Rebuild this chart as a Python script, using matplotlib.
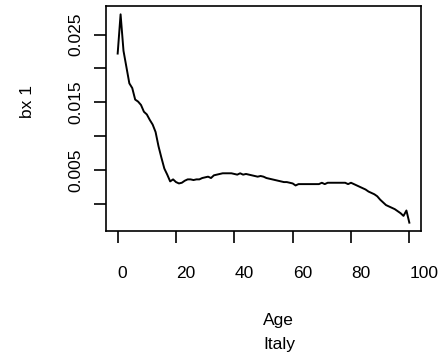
import numpy as np
import matplotlib
matplotlib.use('Agg')
import matplotlib.pyplot as plt

plt.rcParams['font.family'] = ['Liberation Sans', 'DejaVu Sans']

# bx 1 by single year of age
ages = np.arange(0, 101)
bx = [0.0222, 0.0280, 0.0226, 0.0202, 0.0178, 0.0171, 0.0154, 0.0151, 0.0146, 0.0136,
      0.0132, 0.0124, 0.0117, 0.0106, 0.0085, 0.0068, 0.0052, 0.0043, 0.0033, 0.0036,
      0.0032, 0.0030, 0.0031, 0.0034, 0.0036, 0.0036, 0.0035, 0.0036, 0.0036, 0.0038,
      0.0039, 0.0040, 0.0038, 0.0042, 0.0043, 0.0044, 0.0045, 0.0045, 0.0045, 0.0045,
      0.0044, 0.0043, 0.0045, 0.0043, 0.0044, 0.0043, 0.0042, 0.0041, 0.0040, 0.0041,
      0.0040, 0.0038, 0.0037, 0.0036, 0.0035, 0.0034, 0.0033, 0.0032, 0.0032, 0.0031,
      0.0030, 0.0027, 0.0029, 0.0029, 0.0029, 0.0029, 0.0029, 0.0029, 0.0029, 0.0029,
      0.0031, 0.0029, 0.0031, 0.0031, 0.0031, 0.0031, 0.0031, 0.0031, 0.0031, 0.0029,
      0.0031, 0.0029, 0.0027, 0.0025, 0.0023, 0.0021, 0.0018, 0.0016, 0.0014, 0.0011,
      0.0006, 0.0002, -0.0002, -0.0004, -0.0006, -0.0008, -0.0011, -0.0014, -0.0018, -0.0010,
      -0.0028]
xticks = [0, 20, 40, 60, 80, 100]
yticks = [0.000, 0.005, 0.010, 0.015, 0.020, 0.025]
ylabels = ['', '0.005', '', '0.015', '', '0.025']

W, H = 446, 359
fig = plt.figure(figsize=(W / 100, H / 100), dpi=100)
ax = fig.add_axes([106 / W, 1 - 231 / H, 315 / W, 225 / H])
ax.plot(ages, bx, color='black', lw=1.4)

ymin, ymax = min(bx), max(bx)
pad = 0.04 * (ymax - ymin)
ax.set_xlim(-4, 104)
ax.set_ylim(ymin - pad, ymax + pad)

fs = 12.5
ax.set_xticks(xticks)
ax.set_xticklabels([str(t) for t in xticks], fontsize=fs, ha='left')
ax.set_yticks(yticks)
ax.set_yticklabels(ylabels, fontsize=fs, rotation=90, va='center')
ax.tick_params(axis='x', length=8.5, width=1.2, pad=17)
ax.tick_params(axis='y', length=9, width=1.2, pad=7)
for s in ax.spines.values():
    s.set_linewidth(1.2)

fig.text(263 / W, 1 - 320 / H, 'Age', fontsize=fs, ha='left', va='center')
fig.text(263 / W, 1 - 345 / H, 'Italy', fontsize=fs, ha='left', va='center')
fig.text(27 / W, 1 - 118 / H, 'bx 1', fontsize=fs, rotation=90, ha='center', va='bottom')

fig.savefig('out.png', dpi=100)
